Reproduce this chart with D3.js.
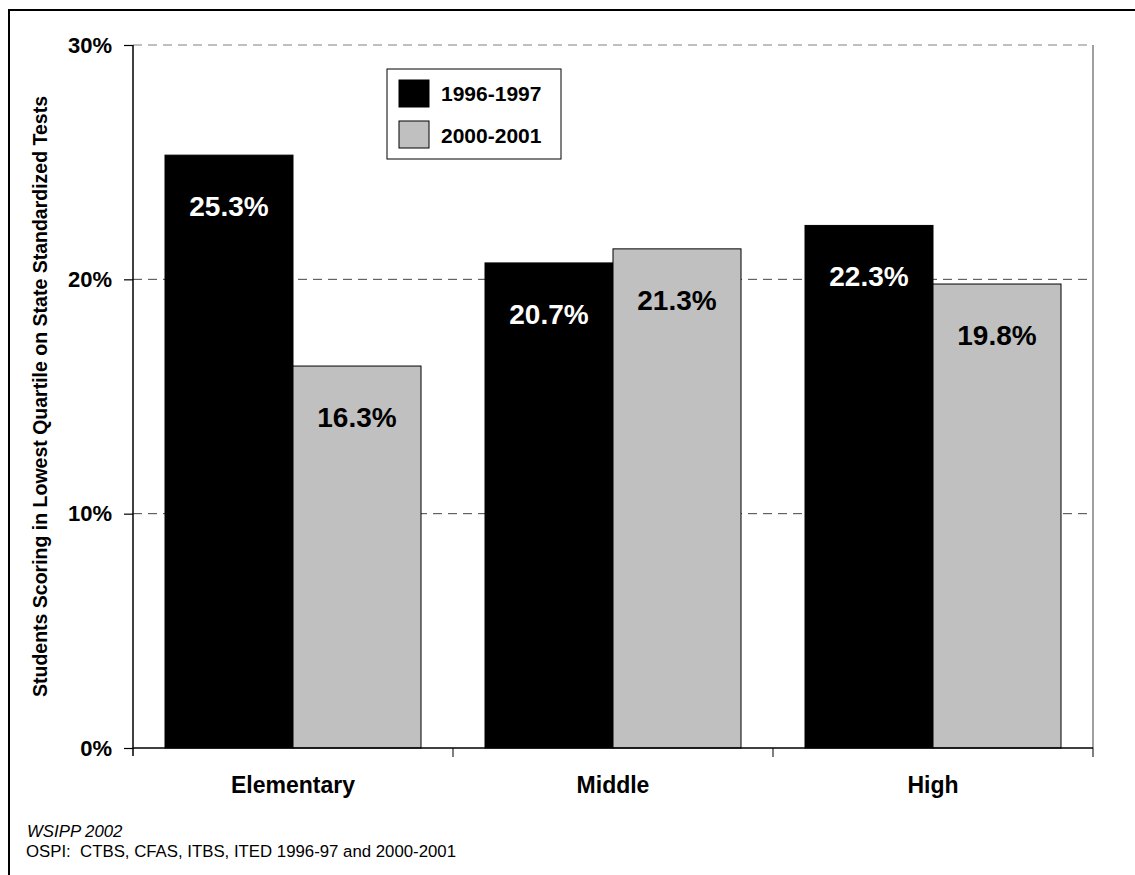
<!DOCTYPE html>
<html>
<head>
<meta charset="utf-8">
<script src="https://cdn.jsdelivr.net/npm/d3@7"></script>
<style>
  html, body { margin: 0; padding: 0; background: #fff; overflow: hidden; }
  svg { display: block; font-family: Arial, "Liberation Sans", sans-serif; }
</style>
</head>
<body>
<svg id="chart" width="1135" height="875"></svg>
<script>
const categories = ["Elementary", "Middle", "High"];
const seriesNames = ["1996-1997", "2000-2001"];
const values1996 = [25.3, 20.7, 22.3];
const values2000 = [16.3, 21.3, 19.8];
const yTicks = [0, 10, 20, 30];
const yTitle = "Students Scoring in Lowest Quartile on State Standardized Tests";
const footer1 = "WSIPP 2002";
const footer2 = "OSPI:  CTBS, CFAS, ITBS, ITED 1996-97 and 2000-2001";

const colors = ["#000000", "#C0C0C0"];
const labelColors = ["#ffffff", "#000000"];
const seriesValues = [values1996, values2000];

const svg = d3.select("#chart");
const plot = { left: 133, right: 1093, top: 45, bottom: 748 };

// outer frame (extends beyond view on right/bottom)
svg.append("path").attr("d", "M9,900V10H1200")
  .attr("fill", "none").attr("stroke", "#000").attr("stroke-width", 2);

const x = d3.scaleBand().domain(categories).range([plot.left, plot.right]).paddingInner(0).paddingOuter(0);
const x1 = d3.scaleBand().domain(seriesNames).range([0, x.bandwidth()]).paddingInner(0).paddingOuter(0.25);
const y = d3.scaleLinear().domain([0, 30]).range([plot.bottom, plot.top]);

// gridlines
svg.append("g").selectAll("line").data(yTicks.filter(t => t > 0)).join("line")
  .attr("x1", plot.left).attr("x2", plot.right)
  .attr("y1", d => y(d)).attr("y2", d => y(d))
  .attr("stroke", d => d === 30 ? "#808080" : "#444")
  .attr("stroke-width", 1)
  .attr("stroke-dasharray", "9,6");

// right plot border
svg.append("line").attr("x1", plot.right).attr("x2", plot.right)
  .attr("y1", plot.top).attr("y2", plot.bottom).attr("stroke", "#808080").attr("stroke-width", 1.5);

// bars
const groups = svg.append("g").selectAll("g").data(categories).join("g")
  .attr("transform", d => `translate(${x(d)},0)`);

seriesNames.forEach((s, si) => {
  groups.append("rect")
    .attr("x", x1(s))
    .attr("width", x1.bandwidth())
    .attr("y", (d, i) => y(seriesValues[si][i]))
    .attr("height", (d, i) => y(0) - y(seriesValues[si][i]))
    .attr("fill", colors[si])
    .attr("stroke", "#000").attr("stroke-width", 1);
  groups.append("text")
    .attr("x", x1(s) + x1.bandwidth() / 2)
    .attr("y", (d, i) => y(seriesValues[si][i]) + 61)
    .attr("text-anchor", "middle")
    .attr("font-size", 28).attr("font-weight", "bold")
    .attr("fill", labelColors[si])
    .text((d, i) => seriesValues[si][i].toFixed(1) + "%");
});

// y axis
const yAxis = d3.axisLeft(y).tickValues(yTicks).tickFormat(d => d + "%").tickSize(9).tickPadding(12);
const gy = svg.append("g").attr("transform", `translate(${plot.left},0)`).call(yAxis);
gy.select(".domain").attr("stroke", "#000").attr("stroke-width", 1.5).attr("d", `M0,${plot.top}V${plot.bottom + 8}`);
gy.selectAll(".tick line").attr("stroke", "#000").attr("stroke-width", 1.2);
gy.selectAll(".tick text").attr("font-size", 22).attr("font-weight", "bold").attr("fill", "#000")
  .attr("font-family", "Arial, 'Liberation Sans', sans-serif");

// x axis
svg.append("line").attr("x1", plot.left).attr("x2", plot.right)
  .attr("y1", plot.bottom).attr("y2", plot.bottom).attr("stroke", "#000").attr("stroke-width", 1.5);
const boundaries = categories.map(c => x(c)).concat([x(categories[categories.length - 1]) + x.bandwidth()]);
svg.append("g").selectAll("line").data(boundaries.slice(1)).join("line")
  .attr("x1", d => d).attr("x2", d => d)
  .attr("y1", plot.bottom).attr("y2", plot.bottom + 9)
  .attr("stroke", "#000").attr("stroke-width", 1);
svg.append("g").selectAll("text").data(categories).join("text")
  .attr("x", d => x(d) + x.bandwidth() / 2)
  .attr("y", 793)
  .attr("text-anchor", "middle")
  .attr("font-size", 23).attr("font-weight", "bold")
  .text(d => d);

// y title
svg.append("text")
  .attr("transform", `translate(47,${(plot.top + plot.bottom) / 2}) rotate(-90)`)
  .attr("text-anchor", "middle")
  .attr("font-size", 19.5).attr("font-weight", "bold")
  .text(yTitle);

// legend
const lg = svg.append("g");
lg.append("rect").attr("x", 387).attr("y", 69).attr("width", 174).attr("height", 90)
  .attr("fill", "#fff").attr("stroke", "#000").attr("stroke-width", 1);
seriesNames.forEach((s, i) => {
  lg.append("rect").attr("x", 399).attr("y", 80 + i * 41).attr("width", 30).attr("height", 27)
    .attr("fill", colors[i]).attr("stroke", "#000").attr("stroke-width", 1);
  lg.append("text").attr("x", 441).attr("y", 101 + i * 42)
    .attr("font-size", 21).attr("font-weight", "bold").text(s);
});

// footer
svg.append("text").attr("x", 27).attr("y", 837).attr("font-size", 16.8).attr("font-style", "italic").text(footer1);
svg.append("text").attr("x", 26).attr("y", 857).attr("font-size", 16.8)
  .style("white-space", "pre").text(footer2);
</script>
</body>
</html>
